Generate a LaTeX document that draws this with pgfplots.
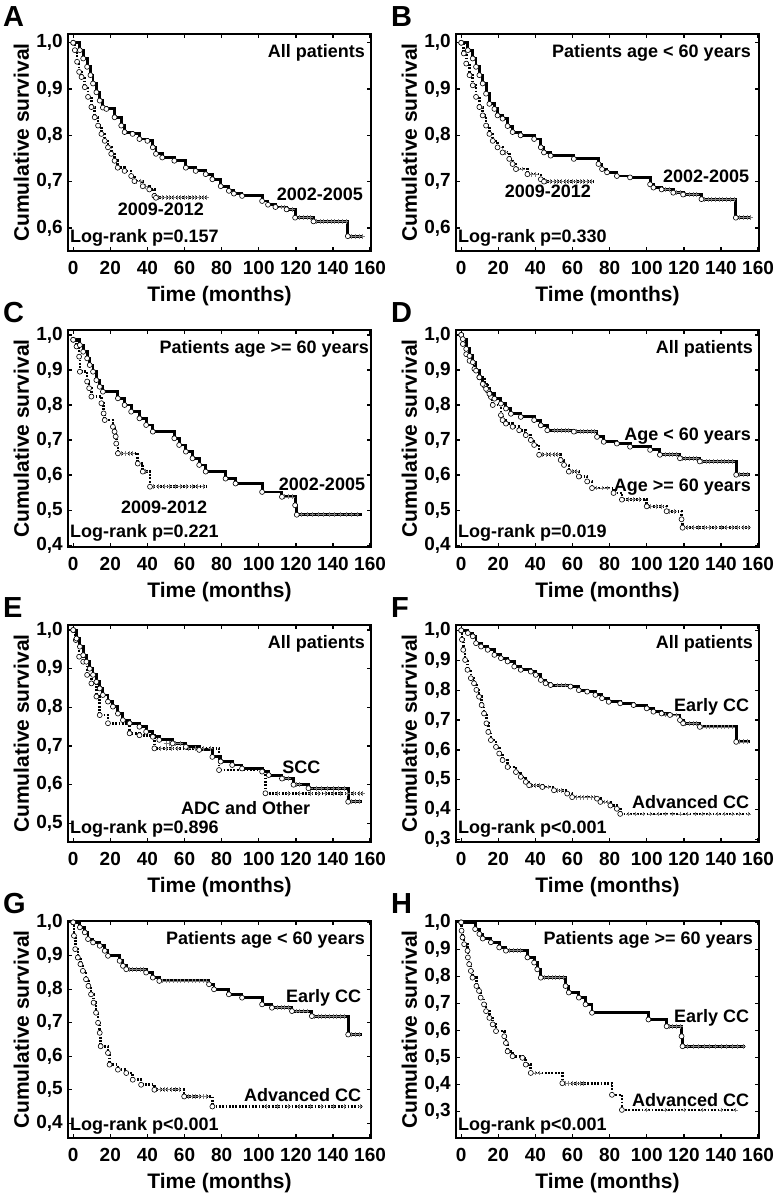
\documentclass[border=0pt]{standalone}
\usepackage{pgfplots}
\pgfplotsset{compat=1.18}
\usepackage{pgfplotstable}
\usepackage{fontspec}
\setmainfont{Liberation Sans}
\newcommand\fLab{\fontsize{21}{23}\selectfont\bfseries}
\newcommand\fTick{\fontsize{19}{21}\selectfont\bfseries}
\newcommand\fIn{\fontsize{18}{20}\selectfont\bfseries}
\newcommand\fLet{\fontsize{29}{31}\selectfont\bfseries}

% ---- A ----
\pgfplotstableread{
t s
0 1
3.6 0.984
5.4 0.966
7.5 0.948
9.3 0.93
10.7 0.912
12.5 0.893
14.3 0.875
16 0.86
17.9 0.857
22.3 0.839
25.9 0.821
27.7 0.807
32 0.803
35.7 0.792
40 0.788
42.9 0.774
44.6 0.76
48 0.752
54.5 0.745
60.7 0.73
66 0.723
71.4 0.716
75 0.705
79.5 0.69
83.9 0.68
86.6 0.674
91 0.669
101.8 0.658
105 0.65
109 0.645
115 0.64
119.6 0.622
129.5 0.614
148 0.582
}\Aone
\pgfplotstableread{
t s
0 1
0.9 0.984
2.1 0.959
3.2 0.937
4.5 0.926
6.25 0.904
8 0.883
9.8 0.861
11.6 0.839
13.4 0.821
15.2 0.803
17 0.788
18.75 0.774
20.5 0.76
22.3 0.745
24 0.73
27.7 0.723
31.25 0.712
33 0.701
37.5 0.69
41 0.683
43.75 0.669
44.6 0.665
}\Atwo
% ---- B ----
\pgfplotstableread{
t s
0 1
3.6 0.984
6.25 0.966
8 0.948
9.8 0.93
11.6 0.912
13.4 0.89
15.2 0.868
17.9 0.857
19.6 0.843
22.3 0.836
25 0.82
27.7 0.807
32 0.8
39.3 0.792
42.9 0.774
44.6 0.763
48.2 0.756
60.7 0.749
74 0.738
75.9 0.727
78.6 0.72
83.9 0.712
91 0.709
101.8 0.694
103.6 0.687
108 0.683
114.3 0.676
119.6 0.672
129.5 0.662
148 0.622
}\Bone
\pgfplotstableread{
t s
0 1
1.4 0.977
2.7 0.955
4.5 0.93
6.25 0.908
8 0.883
9.8 0.861
11.6 0.843
13.4 0.821
15.2 0.803
17 0.788
19.6 0.774
22.3 0.763
25.9 0.749
27.7 0.738
29.5 0.727
35.7 0.716
42.9 0.705
44.6 0.70
}\Btwo
% ---- C ----
\pgfplotstableread{
t s
0 0.986
3.6 0.971
5.4 0.952
7.5 0.933
8.9 0.914
10.7 0.895
12.5 0.871
14.3 0.852
16 0.838
24.1 0.819
27.7 0.8
31.25 0.781
35.7 0.762
39.3 0.743
42.9 0.724
54.5 0.705
57.1 0.686
60.7 0.667
64.3 0.648
67.9 0.629
71.4 0.61
82.1 0.59
87.5 0.576
101.8 0.552
112.5 0.538
119.6 0.514
120.5 0.487
}\Cone
\pgfplotstableread{
t s
0 0.986
1.8 0.967
3.2 0.938
3.6 0.895
7.5 0.867
8.6 0.848
9.8 0.824
15.2 0.805
16.4 0.776
17 0.757
21.4 0.738
22.3 0.724
22.9 0.71
23.2 0.69
24.1 0.662
34.8 0.633
37.5 0.61
41.4 0.567
}\Ctwo
% ---- D ----
\pgfplotstableread{
t s
0 1
0.9 0.988
2.7 0.96
4.5 0.94
6.25 0.922
8 0.898
9.8 0.879
11.6 0.86
13.4 0.846
15.2 0.832
17.9 0.818
21.4 0.804
24.1 0.79
26.8 0.775
32.1 0.766
39.3 0.757
42.9 0.742
46.4 0.728
60.7 0.724
73.2 0.709
76.8 0.695
83.9 0.69
91 0.681
101.8 0.672
107.1 0.658
117.9 0.648
128.6 0.639
148.2 0.601
}\Done
\pgfplotstableread{
t s
0 1
0.9 0.974
2.7 0.945
4.5 0.926
7.1 0.903
9.8 0.879
12.5 0.856
14.3 0.841
16 0.823
17 0.8
21.4 0.771
22.3 0.757
24.1 0.747
27.7 0.738
31.25 0.728
34.8 0.714
37.5 0.7
39.3 0.686
42 0.658
53.6 0.643
55.4 0.629
58 0.61
63.4 0.596
67.9 0.582
70.5 0.563
82.1 0.549
86.6 0.53
100 0.511
110.7 0.497
118.75 0.474
119.3 0.45
}\Dtwo
% ---- E ----
\pgfplotstableread{
t s
0 1
1.8 0.978
3.6 0.957
5.4 0.935
7.1 0.918
8.9 0.9
10.7 0.884
12.5 0.866
14.3 0.849
16 0.832
18.75 0.815
21.4 0.802
24.1 0.784
26.8 0.767
30.4 0.759
35.7 0.75
39.3 0.737
42.9 0.724
46.4 0.716
53.6 0.707
60.7 0.698
67.9 0.69
75 0.672
79.5 0.66
85.7 0.651
91 0.642
101.8 0.634
105.4 0.625
112.5 0.616
118.75 0.6
126.8 0.591
148.2 0.556
}\Eone
\pgfplotstableread{
t s
0 1
1.4 0.974
3.2 0.931
5.4 0.918
7.5 0.884
9.8 0.862
12.5 0.828
14.3 0.78
18.75 0.759
30.4 0.733
35.7 0.728
43.75 0.694
78.6 0.638
103.6 0.578
}\Etwo
% ---- F ----
\pgfplotstableread{
t s
0 1
3.6 0.991
6.25 0.98
8 0.957
10.7 0.946
14.3 0.935
17.9 0.918
21.4 0.907
25 0.896
28.6 0.879
32.1 0.868
37.5 0.862
40.2 0.851
42.9 0.834
45.5 0.823
48.2 0.817
58.9 0.812
63.4 0.8
67.9 0.795
72.3 0.784
75.9 0.773
79.5 0.761
85.7 0.756
92.9 0.75
100 0.739
103.6 0.728
108 0.722
112.5 0.717
117.9 0.7
119.6 0.689
128.6 0.677
148.2 0.627
}\Fone
\pgfplotstableread{
t s
0 1
0.4 0.969
1.1 0.935
2.1 0.901
3.4 0.868
5.2 0.84
6.9 0.823
8.2 0.801
9.6 0.778
11 0.75
12.3 0.722
13.6 0.689
14.6 0.66
16 0.633
18.75 0.61
20.5 0.588
22.3 0.566
25 0.543
29.5 0.526
32.1 0.51
34.8 0.493
36.6 0.482
43.75 0.476
50 0.465
57.1 0.454
59.8 0.442
73.2 0.437
75 0.426
80.4 0.414
83.9 0.403
85.7 0.386
}\Ftwo
% ---- G ----
\pgfplotstableread{
t s
0 1
3.6 0.985
6.25 0.97
8 0.95
10.7 0.94
14.3 0.93
17 0.915
18.75 0.9
25 0.885
26.8 0.87
28.6 0.86
39.3 0.85
42.9 0.835
46.4 0.825
73.2 0.815
75.9 0.8
83.9 0.785
91 0.775
101.8 0.755
107.1 0.745
117.9 0.735
128.6 0.72
148.2 0.665
}\Gone
\pgfplotstableread{
t s
0 1
0.4 0.96
1.1 0.92
2.5 0.895
3.9 0.875
5.2 0.855
6.9 0.83
8.2 0.81
9.6 0.785
11 0.76
12.3 0.73
13.4 0.7
14.3 0.67
14.8 0.63
18.75 0.61
19.6 0.575
24.1 0.56
28.6 0.55
32.1 0.53
36.6 0.515
43.75 0.5
59.8 0.48
75 0.45
}\Gtwo
% ---- H ----
\pgfplotstableread{
t s
0 1
7.5 0.975
9.8 0.957
11.6 0.94
16 0.926
20.5 0.907
24.1 0.895
35.7 0.87
39.3 0.851
41 0.826
42.9 0.795
56.25 0.764
58 0.74
63.4 0.721
67 0.696
70.5 0.665
100.9 0.64
110.7 0.615
118.75 0.578
119.3 0.541
}\Hone
\pgfplotstableread{
t s
0 1
0.2 0.969
0.7 0.944
1.6 0.919
3.4 0.895
3.6 0.87
4.3 0.845
5.2 0.82
6.1 0.795
8.2 0.764
9.6 0.746
10.5 0.721
12.3 0.696
13.4 0.671
15.2 0.646
17 0.622
18.75 0.597
23.2 0.578
24.1 0.553
25 0.522
27.7 0.504
33 0.498
34.8 0.473
37.5 0.442
54.5 0.404
81.25 0.361
86.6 0.305
}\Htwo

\pgfplotsset{
  km/.style={
    scale only axis, width=303pt, height=217pt,
    xmin=-2.8, xmax=160.5,
    xtick={0,20,40,60,80,100,120,140,160},
    ytick={0.2,0.3,0.4,0.5,0.6,0.7,0.8,0.9,1.0},
    tick align=inside, major tick length=4pt,
    axis line style={line width=2pt},
    every tick/.style={black, line width=1.3pt},
    /pgf/number format/assume math mode=true,
    xlabel={Time (months)}, ylabel={Cumulative survival},
    xlabel style={at={(axis description cs:0.5,0)}, anchor=north, inner sep=0pt, yshift=-35pt, font=\fLab},
    ylabel style={at={(axis description cs:-0.128,0.5)}, anchor=south, inner sep=0pt, font=\fLab},
    xticklabel style={anchor=north, inner sep=0pt, yshift=-10pt, font=\fTick},
    yticklabel style={anchor=east, inner sep=0pt, xshift=-5pt, font=\fTick,
      /pgf/number format/.cd, fixed, fixed zerofill, precision=1, use comma},
  },
  solidkm/.style={black, line width=2.9pt, const plot, no marks},
  dotkm/.style={black, line width=2.6pt, const plot, no marks, dash pattern=on 1.8pt off 1.5pt},
  circ/.style={only marks, mark=*, mark size=2.5pt, mark options={fill=white, draw=black, line width=0.6pt, solid}},
  cens/.style={only marks, mark=+, mark size=2.4pt, mark options={gray, line width=0.7pt, solid}},
}

\begin{document}
\begin{tikzpicture}[x=1pt,y=1pt]
\path[use as bounding box] (0,0) rectangle (777,1199);

% ===== A =====
\begin{axis}[km, name=a, at={(68pt,948pt)}, anchor=south west, ymin=0.55, ymax=1.019]
\addplot[dotkm] table {\Atwo};
\addplot[dotkm] coordinates {(44.6,0.665)(72.3,0.665)};
\addplot[solidkm] table {\Aone};
\addplot[solidkm] coordinates {(148,0.582)(156,0.582)};
\addplot[cens] coordinates {(34,0.701)(36,0.701)(39,0.69)(46,0.665)(48,0.665)(50,0.665)(52,0.665)(54,0.665)(56,0.665)(58,0.665)(60,0.665)(62,0.665)(64,0.665)(66,0.665)(68,0.665)(70,0.665)(72,0.665)};
\addplot[cens] coordinates {(112,0.645)(114,0.645)(116,0.64)(118,0.64)(122,0.622)(124,0.622)(126,0.622)(128,0.622)(131,0.614)(133,0.614)(135,0.614)(137,0.614)(139,0.614)(141,0.614)(143,0.614)(145,0.614)(147,0.614)(150,0.582)(152,0.582)(154,0.582)(156,0.582)};
\addplot[circ] table {\Atwo};
\addplot[circ] table {\Aone};
\node[anchor=north east, inner sep=0pt, font=\fIn] at (rel axis cs:1,1) [xshift=-6pt, yshift=-10pt] {All patients};
\node[anchor=base west, inner sep=0pt, font=\fIn] at (rel axis cs:0,0) [xshift=2pt, yshift=8pt] {Log-rank p=0.157};
\node[anchor=base east, inner sep=0pt, font=\fIn] at (axis cs:156.3,0.66) {2002-2005};
\node[anchor=base, inner sep=0pt, font=\fIn] at (axis cs:47.3,0.626) {2009-2012};
\end{axis}

% ===== B =====
\begin{axis}[km, name=b, at={(456pt,948pt)}, anchor=south west, ymin=0.55, ymax=1.019]
\addplot[dotkm] table {\Btwo};
\addplot[dotkm] coordinates {(44.6,0.70)(71.4,0.70)};
\addplot[solidkm] table {\Bone};
\addplot[solidkm] coordinates {(148,0.622)(156,0.622)};
\addplot[cens] coordinates {(24,0.763)(31,0.727)(33,0.727)(38,0.716)(40,0.716)(46,0.70)(48,0.70)(50,0.70)(52,0.70)(54,0.70)(56,0.70)(58,0.70)(60,0.70)(62,0.70)(64,0.70)(66,0.70)(68,0.70)(70,0.70)};
\addplot[cens] coordinates {(110,0.683)(112,0.683)(116,0.676)(118,0.676)(121,0.672)(123,0.672)(125,0.672)(127,0.672)(131,0.662)(133,0.662)(135,0.662)(137,0.662)(139,0.662)(141,0.662)(143,0.662)(145,0.662)(147,0.662)(150,0.622)(152,0.622)(154,0.622)(156,0.622)};
\addplot[circ] table {\Btwo};
\addplot[circ] table {\Bone};
\node[anchor=north east, inner sep=0pt, font=\fIn] at (rel axis cs:1,1) [xshift=-8pt, yshift=-10pt] {Patients age < 60 years};
\node[anchor=base west, inner sep=0pt, font=\fIn] at (rel axis cs:0,0) [xshift=2pt, yshift=8pt] {Log-rank p=0.330};
\node[anchor=base east, inner sep=0pt, font=\fIn] at (axis cs:155.3,0.697) {2002-2005};
\node[anchor=base, inner sep=0pt, font=\fIn] at (axis cs:46.7,0.665) {2009-2012};
\end{axis}

% ===== C =====
\begin{axis}[km, name=c, at={(68pt,652pt)}, anchor=south west, ymin=0.395, ymax=1.014]
\addplot[dotkm] table {\Ctwo};
\addplot[dotkm] coordinates {(41.4,0.567)(72.3,0.567)};
\addplot[solidkm] table {\Cone};
\addplot[solidkm] coordinates {(120.5,0.487)(155.4,0.487)};
\addplot[cens] coordinates {(26,0.662)(28,0.662)(30,0.662)(32,0.662)(39,0.61)(43,0.567)(46,0.567)(49,0.567)(52,0.567)(55,0.567)(58,0.567)(61,0.567)(64,0.567)(67,0.567)(70,0.567)};
\addplot[cens] coordinates {(114,0.538)(116,0.538)(118,0.538)(123,0.487)(126,0.487)(129,0.487)(132,0.487)(135,0.487)(138,0.487)(141,0.487)(144,0.487)(147,0.487)(150,0.487)(153,0.487)};
\addplot[circ] table {\Ctwo};
\addplot[circ] table {\Cone};
\node[anchor=north east, inner sep=0pt, font=\fIn] at (rel axis cs:1,1) [xshift=-2pt, yshift=-10pt] {Patients age >= 60 years};
\node[anchor=base west, inner sep=0pt, font=\fIn] at (rel axis cs:0,0) [xshift=2pt, yshift=9pt] {Log-rank p=0.221};
\node[anchor=base east, inner sep=0pt, font=\fIn] at (axis cs:157.4,0.557) {2002-2005};
\node[anchor=base, inner sep=0pt, font=\fIn] at (axis cs:49,0.491) {2009-2012};
\end{axis}

% ===== D =====
\begin{axis}[km, name=d, at={(456pt,652pt)}, anchor=south west, ymin=0.395, ymax=1.014]
\addplot[dotkm] table {\Dtwo};
\addplot[dotkm] coordinates {(119.3,0.45)(155.4,0.45)};
\addplot[solidkm] table {\Done};
\addplot[solidkm] coordinates {(148.2,0.601)(155.4,0.601)};
\addplot[cens] coordinates {(44,0.658)(46,0.658)(48,0.658)(50,0.658)(52,0.658)(60,0.61)(62,0.61)(73,0.563)(76,0.563)(79,0.563)(90,0.53)(93,0.53)(96,0.53)(102,0.511)(105,0.511)(108,0.511)(112,0.497)(115,0.497)(122,0.45)(125,0.45)(128,0.45)(131,0.45)(134,0.45)(137,0.45)(140,0.45)(143,0.45)(146,0.45)(149,0.45)(152,0.45)(155,0.45)};
\addplot[cens] coordinates {(50,0.728)(52,0.728)(54,0.728)(56,0.728)(58,0.728)(62,0.724)(64,0.724)(66,0.724)(68,0.724)(70,0.724)(72,0.724)(110,0.658)(112,0.658)(114,0.658)(116,0.658)(119,0.648)(121,0.648)(123,0.648)(125,0.648)(127,0.648)(130,0.639)(132,0.639)(134,0.639)(136,0.639)(138,0.639)(140,0.639)(142,0.639)(144,0.639)(146,0.639)(150,0.601)(152,0.601)(154,0.601)};
\addplot[circ] table {\Dtwo};
\addplot[circ] table {\Done};
\node[anchor=north east, inner sep=0pt, font=\fIn] at (rel axis cs:1,1) [xshift=-6pt, yshift=-10pt] {All patients};
\node[anchor=base west, inner sep=0pt, font=\fIn] at (rel axis cs:0,0) [xshift=2pt, yshift=9pt] {Log-rank p=0.019};
\node[anchor=base east, inner sep=0pt, font=\fIn] at (axis cs:156.3,0.698) {Age < 60 years};
\node[anchor=base east, inner sep=0pt, font=\fIn] at (axis cs:156.3,0.554) {Age >= 60 years};
\end{axis}

% ===== E =====
\begin{axis}[km, name=e, at={(68pt,357pt)}, anchor=south west, ymin=0.452, ymax=1.013]
\addplot[dotkm] table {\Etwo};
\addplot[dotkm] coordinates {(103.6,0.578)(156,0.578)};
\addplot[solidkm] table {\Eone};
\addplot[solidkm] coordinates {(148.2,0.556)(155.4,0.556)};
\addplot[cens] coordinates {(47,0.694)(50,0.694)(53,0.694)(56,0.694)(62,0.694)(66,0.694)(70,0.694)(74,0.694)(110,0.578)(116,0.578)(122,0.578)(128,0.578)(132,0.578)(136,0.578)(140,0.578)(144,0.578)(148,0.578)(151,0.578)(154,0.578)(156,0.578)};
\addplot[cens] coordinates {(50,0.707)(52,0.707)(55,0.707)(58,0.707)(112,0.616)(114,0.616)(116,0.616)(120,0.6)(122,0.6)(128,0.591)(131,0.591)(134,0.591)(137,0.591)(140,0.591)(143,0.591)(146,0.591)(150,0.556)(152,0.556)(154,0.556)};
\addplot[circ] table {\Etwo};
\addplot[circ] table {\Eone};
\node[anchor=north east, inner sep=0pt, font=\fIn] at (rel axis cs:1,1) [xshift=-6pt, yshift=-10pt] {All patients};
\node[anchor=base west, inner sep=0pt, font=\fIn] at (rel axis cs:0,0) [xshift=2pt, yshift=8pt] {Log-rank p=0.896};
\node[anchor=base, inner sep=0pt, font=\fIn] at (axis cs:123,0.63) {SCC};
\node[anchor=base, inner sep=0pt, font=\fIn] at (axis cs:92.9,0.524) {ADC and Other};
\end{axis}

% ===== F =====
\begin{axis}[km, name=f, at={(456pt,357pt)}, anchor=south west, ymin=0.292, ymax=1.018]
\addplot[dotkm] table {\Ftwo};
\addplot[dotkm] coordinates {(85.7,0.386)(155.4,0.386)};
\addplot[solidkm] table {\Fone};
\addplot[solidkm] coordinates {(148.2,0.627)(155.4,0.627)};
\addplot[cens] coordinates {(38,0.482)(40,0.482)(42,0.482)(45,0.476)(47,0.476)(52,0.465)(54,0.465)(62,0.442)(64,0.442)(66,0.442)(68,0.442)(70,0.442)(72,0.442)(77,0.426)(79,0.426)(90,0.386)(94,0.386)(98,0.386)(102,0.386)(106,0.386)(110,0.386)(114,0.386)(118,0.386)(122,0.386)(126,0.386)(130,0.386)(134,0.386)(138,0.386)(142,0.386)(146,0.386)(150,0.386)(155,0.386)};
\addplot[cens] coordinates {(52,0.817)(54,0.817)(56,0.817)(110,0.717)(112,0.717)(114,0.717)(116,0.717)(121,0.689)(123,0.689)(125,0.689)(127,0.689)(130,0.677)(132,0.677)(134,0.677)(136,0.677)(138,0.677)(140,0.677)(142,0.677)(144,0.677)(146,0.677)(150,0.627)(152,0.627)(154,0.627)};
\addplot[circ] table {\Ftwo};
\addplot[circ] table {\Fone};
\node[anchor=north east, inner sep=0pt, font=\fIn] at (rel axis cs:1,1) [xshift=-6pt, yshift=-10pt] {All patients};
\node[anchor=base west, inner sep=0pt, font=\fIn] at (rel axis cs:0,0) [xshift=2pt, yshift=8pt] {Log-rank p<0.001};
\node[anchor=base east, inner sep=0pt, font=\fIn] at (axis cs:155.3,0.728) {Early CC};
\node[anchor=base east, inner sep=0pt, font=\fIn] at (axis cs:155.3,0.403) {Advanced CC};
\end{axis}

% ===== G =====
\begin{axis}[km, name=g, at={(68pt,61pt)}, anchor=south west, ymin=0.356, ymax=1.004]
\addplot[dotkm] table {\Gtwo};
\addplot[dotkm] coordinates {(75,0.45)(155.4,0.45)};
\addplot[solidkm] table {\Gone};
\addplot[solidkm] coordinates {(148.2,0.665)(155.4,0.665)};
\addplot[cens] coordinates {(45,0.5)(47,0.5)(49,0.5)(51,0.5)(53,0.5)(55,0.5)(57,0.5)(62,0.48)(64,0.48)(66,0.48)(68,0.48)(70,0.48)(72,0.48)(104,0.45)(110,0.45)(116,0.45)(122,0.45)(128,0.45)(134,0.45)(140,0.45)(146,0.45)(155,0.45)};
\addplot[cens] coordinates {(30,0.86)(32,0.86)(34,0.86)(36,0.86)(38,0.86)(48,0.825)(50,0.825)(52,0.825)(54,0.825)(56,0.825)(58,0.825)(60,0.825)(62,0.825)(64,0.825)(66,0.825)(68,0.825)(70,0.825)(72,0.825)(110,0.745)(112,0.745)(114,0.745)(116,0.745)(120,0.735)(122,0.735)(124,0.735)(126,0.735)(130,0.72)(132,0.72)(134,0.72)(136,0.72)(138,0.72)(140,0.72)(142,0.72)(144,0.72)(146,0.72)(150,0.665)(152,0.665)(154,0.665)};
\addplot[circ] table {\Gtwo};
\addplot[circ] table {\Gone};
\node[anchor=north east, inner sep=0pt, font=\fIn] at (rel axis cs:1,1) [xshift=-6pt, yshift=-10pt] {Patients age < 60 years};
\node[anchor=base west, inner sep=0pt, font=\fIn] at (rel axis cs:0,0) [xshift=2pt, yshift=8pt] {Log-rank p<0.001};
\node[anchor=base east, inner sep=0pt, font=\fIn] at (axis cs:155.3,0.76) {Early CC};
\node[anchor=base east, inner sep=0pt, font=\fIn] at (axis cs:155.3,0.465) {Advanced CC};
\end{axis}

% ===== H =====
\begin{axis}[km, name=h, at={(456pt,61pt)}, anchor=south west, ymin=0.201, ymax=1.005]
\addplot[dotkm] table {\Htwo};
\addplot[dotkm] coordinates {(86.6,0.305)(148.2,0.305)};
\addplot[solidkm] table {\Hone};
\addplot[solidkm] coordinates {(119.3,0.541)(152.7,0.541)};
\addplot[cens] coordinates {(38,0.442)(40,0.442)(42,0.442)(56,0.404)(58,0.404)(60,0.404)(62,0.404)(64,0.404)(66,0.404)(100,0.305)(110,0.305)(120,0.305)(130,0.305)(140,0.305)(148,0.305)};
\addplot[cens] coordinates {(26,0.895)(28,0.895)(30,0.895)(32,0.895)(45,0.795)(47,0.795)(49,0.795)(51,0.795)(53,0.795)(55,0.795)(112,0.615)(114,0.615)(116,0.615)(118,0.615)(122,0.541)(125,0.541)(128,0.541)(131,0.541)(134,0.541)(137,0.541)(140,0.541)(143,0.541)(146,0.541)(149,0.541)(152,0.541)};
\addplot[circ] table {\Htwo};
\addplot[circ] table {\Hone};
\node[anchor=north east, inner sep=0pt, font=\fIn] at (rel axis cs:1,1) [xshift=-6pt, yshift=-10pt] {Patients age >= 60 years};
\node[anchor=base west, inner sep=0pt, font=\fIn] at (rel axis cs:0,0) [xshift=2pt, yshift=8pt] {Log-rank p<0.001};
\node[anchor=base east, inner sep=0pt, font=\fIn] at (axis cs:155.3,0.628) {Early CC};
\node[anchor=base east, inner sep=0pt, font=\fIn] at (axis cs:155.3,0.318) {Advanced CC};
\end{axis}

\foreach \n/\l in {a/A,b/B,c/C,d/D,e/E,f/F,g/G,h/H}{
  \node[anchor=north west, inner sep=0pt, font=\fLet] at ([xshift=-65pt,yshift=28pt]\n.north west) {\l};
}
\end{tikzpicture}
\end{document}
